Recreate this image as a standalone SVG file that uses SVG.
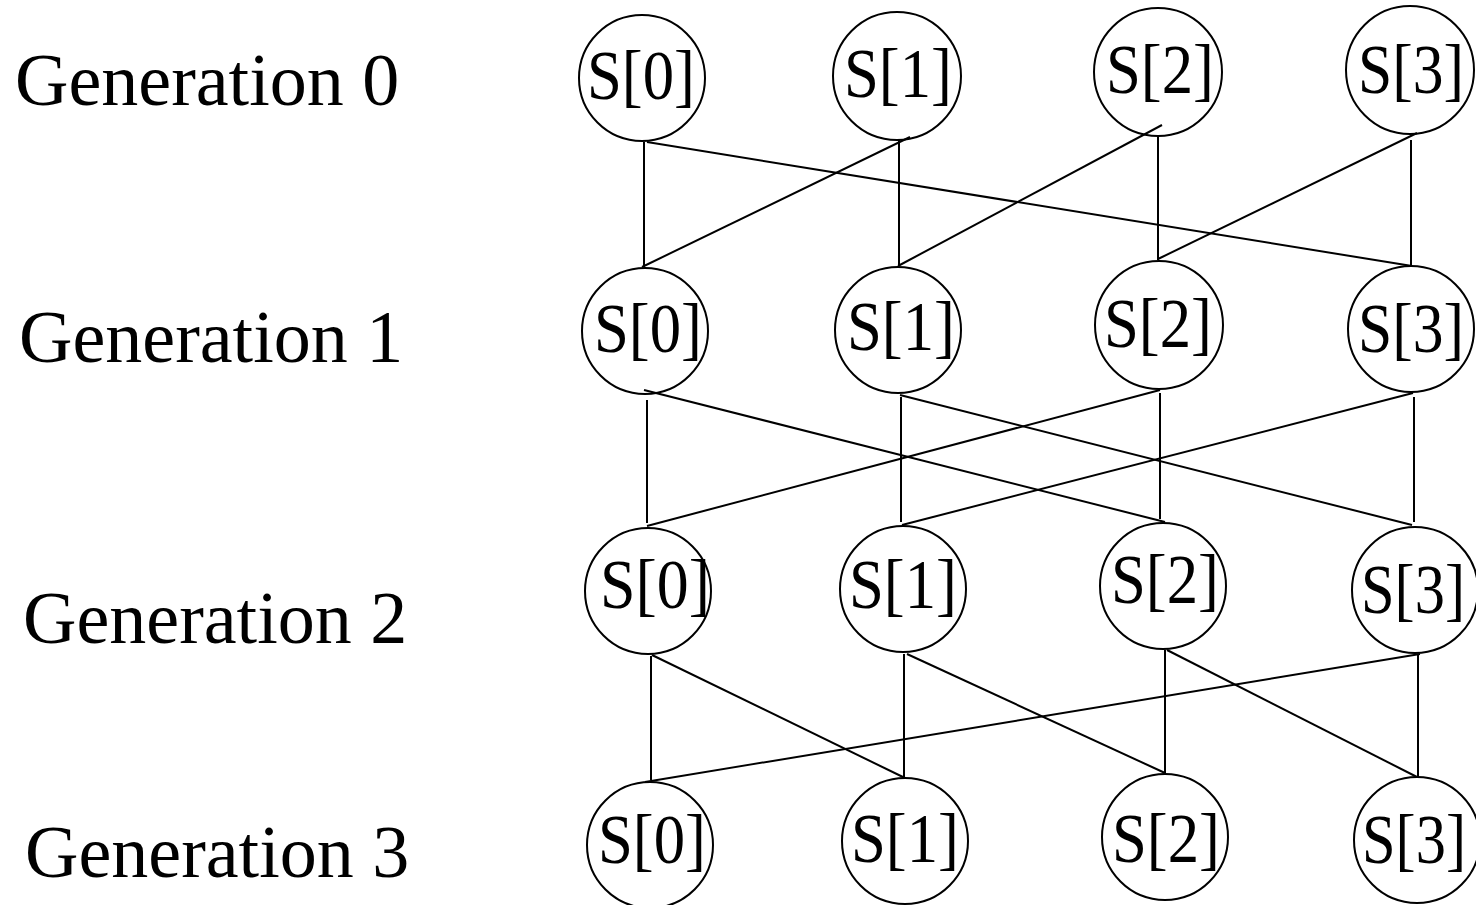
<svg xmlns="http://www.w3.org/2000/svg" width="1476" height="905" viewBox="0 0 1476 905">
<style>
.n circle{fill:none;stroke:#000;stroke-width:2}
.n text{font-family:"Liberation Serif","Times New Roman",serif;font-size:70px;fill:#000;text-anchor:middle}
.lbl{font-family:"Liberation Serif","Times New Roman",serif;font-size:74px;fill:#000}
#edges line{stroke:#000;stroke-width:2}
</style>
<rect width="1476" height="905" fill="#fff"/>
<g id="labels">
<text class="lbl" x="15" y="105">Generation 0</text>
<text class="lbl" x="19" y="362">Generation 1</text>
<text class="lbl" x="23" y="643">Generation 2</text>
<text class="lbl" x="25" y="877">Generation 3</text>
</g>
<g id="edges">
<line x1="644" y1="142" x2="644" y2="267"/>
<line x1="647" y1="142" x2="1412" y2="266"/>
<line x1="910" y1="137" x2="642" y2="267"/>
<line x1="899" y1="139" x2="899" y2="266"/>
<line x1="1162" y1="125" x2="898" y2="266"/>
<line x1="1158" y1="135" x2="1158" y2="260"/>
<line x1="1417" y1="133" x2="1158" y2="259"/>
<line x1="1411" y1="140" x2="1411" y2="265"/>
<line x1="647" y1="400" x2="647" y2="523"/>
<line x1="644" y1="390" x2="1165" y2="522"/>
<line x1="900" y1="395" x2="1412" y2="525"/>
<line x1="901" y1="397" x2="901" y2="522"/>
<line x1="1160" y1="390" x2="647" y2="526"/>
<line x1="1160" y1="393" x2="1160" y2="519"/>
<line x1="1413" y1="393" x2="902" y2="525"/>
<line x1="1414" y1="397" x2="1414" y2="522"/>
<line x1="651" y1="656" x2="651" y2="780"/>
<line x1="652" y1="655" x2="905" y2="778"/>
<line x1="904" y1="654" x2="904" y2="777"/>
<line x1="907" y1="654" x2="1165" y2="773"/>
<line x1="1165" y1="650" x2="1165" y2="773"/>
<line x1="1167" y1="650" x2="1417" y2="777"/>
<line x1="1420" y1="654" x2="645" y2="782"/>
<line x1="1418" y1="655" x2="1418" y2="777"/>
</g>
<g id="g0s0" class="n"><circle cx="642" cy="78" r="63"/><text x="641" y="99" textLength="108" lengthAdjust="spacingAndGlyphs">S[0]</text></g>
<g id="g0s1" class="n"><circle cx="897" cy="76" r="64"/><text x="898" y="97" textLength="108" lengthAdjust="spacingAndGlyphs">S[1]</text></g>
<g id="g0s2" class="n"><circle cx="1158" cy="72" r="64"/><text x="1160" y="93" textLength="108" lengthAdjust="spacingAndGlyphs">S[2]</text></g>
<g id="g0s3" class="n"><circle cx="1410" cy="70" r="64"/><text x="1411" y="93" textLength="106" lengthAdjust="spacingAndGlyphs">S[3]</text></g>
<g id="g1s0" class="n"><circle cx="645" cy="331" r="63"/><text x="648" y="352" textLength="108" lengthAdjust="spacingAndGlyphs">S[0]</text></g>
<g id="g1s1" class="n"><circle cx="898" cy="330" r="63"/><text x="901" y="350" textLength="108" lengthAdjust="spacingAndGlyphs">S[1]</text></g>
<g id="g1s2" class="n"><circle cx="1159" cy="325" r="64"/><text x="1158" y="347" textLength="108" lengthAdjust="spacingAndGlyphs">S[2]</text></g>
<g id="g1s3" class="n"><circle cx="1411" cy="329" r="63"/><text x="1411" y="352" textLength="106" lengthAdjust="spacingAndGlyphs">S[3]</text></g>
<g id="g2s0" class="n"><circle cx="648" cy="591" r="63"/><text x="655" y="608" textLength="110" lengthAdjust="spacingAndGlyphs">S[0]</text></g>
<g id="g2s1" class="n"><circle cx="903" cy="589" r="63"/><text x="903" y="608" textLength="108" lengthAdjust="spacingAndGlyphs">S[1]</text></g>
<g id="g2s2" class="n"><circle cx="1163" cy="586" r="63"/><text x="1165" y="603" textLength="108" lengthAdjust="spacingAndGlyphs">S[2]</text></g>
<g id="g2s3" class="n"><circle cx="1415" cy="590" r="63"/><text x="1413" y="613" textLength="104" lengthAdjust="spacingAndGlyphs">S[3]</text></g>
<g id="g3s0" class="n"><circle cx="650" cy="845" r="63"/><text x="652" y="863" textLength="108" lengthAdjust="spacingAndGlyphs">S[0]</text></g>
<g id="g3s1" class="n"><circle cx="905" cy="841" r="63"/><text x="905" y="862" textLength="108" lengthAdjust="spacingAndGlyphs">S[1]</text></g>
<g id="g3s2" class="n"><circle cx="1165" cy="837" r="63"/><text x="1166" y="862" textLength="108" lengthAdjust="spacingAndGlyphs">S[2]</text></g>
<g id="g3s3" class="n"><circle cx="1417" cy="840" r="63"/><text x="1414" y="863" textLength="104" lengthAdjust="spacingAndGlyphs">S[3]</text></g>
</svg>
